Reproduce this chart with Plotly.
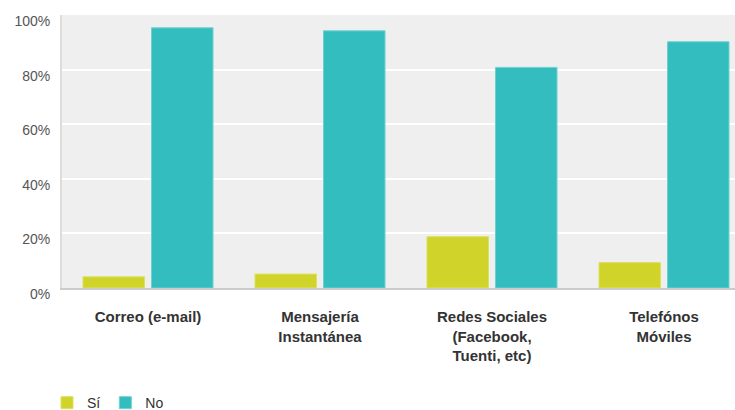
import plotly.graph_objects as go

categories = ["Correo (e-mail)", "Mensajería<br>Instantánea", "Redes Sociales<br>(Facebook,<br>Tuenti, etc)", "Telefónos<br>Móviles"]
si_values = [4.1, 5.1, 18.8, 9.3]
no_values = [95.3, 94.2, 80.8, 90.2]
y_ticks = [0, 20, 40, 60, 80, 100]
y_tick_labels = ["0%", "20%", "40%", "60%", "80%", "100%"]

fig = go.Figure()
fig.add_trace(go.Bar(name="Sí", x=categories, y=si_values,
                     marker=dict(color="#d0d42a", line=dict(color="#dde060", width=1))))
fig.add_trace(go.Bar(name="No", x=categories, y=no_values,
                     marker=dict(color="#33bdbf", line=dict(color="#6fd0d0", width=1))))

# plot area targets x 62..735, y 15..288; figure is taller than the window (clipped)
fig.update_layout(
    width=735, height=425,
    margin=dict(l=62, r=0, t=15, b=137),
    paper_bgcolor="white", plot_bgcolor="#efefef",
    barmode="group", bargap=0.2035, bargroupgap=0.102,
    font=dict(family="Liberation Sans, Arial, sans-serif", size=14, color="#555"),
    showlegend=True,
    legend=dict(orientation="h", x=-0.0223, xanchor="left", y=-0.363, yanchor="top",
                font=dict(size=14, color="#333"), itemwidth=30, traceorder="normal"),
)
fig.update_xaxes(type="category", range=[-0.5, -0.5 + 673 / 172], showgrid=False,
                 automargin=False,
                 showline=True, linecolor="#cccccc", linewidth=2, ticks="",
                 ticklabelstandoff=14,
                 tickfont=dict(family="Liberation Sans, Arial, sans-serif", size=15, color="#333", weight="bold"))
fig.update_yaxes(range=[0, 100], tickvals=y_ticks, ticktext=y_tick_labels,
                 automargin=False,
                 showgrid=True, gridcolor="white", gridwidth=2, zeroline=False,
                 showline=True, linecolor="#dddddd", linewidth=2, ticks="",
                 ticklabelstandoff=7, ticklabelshift=6,
                 tickfont=dict(size=14, color="#555"))

fig.write_html("out.html", config={"displayModeBar": False},
               post_script="document.body.style.margin='0';document.body.style.overflow='hidden';")
